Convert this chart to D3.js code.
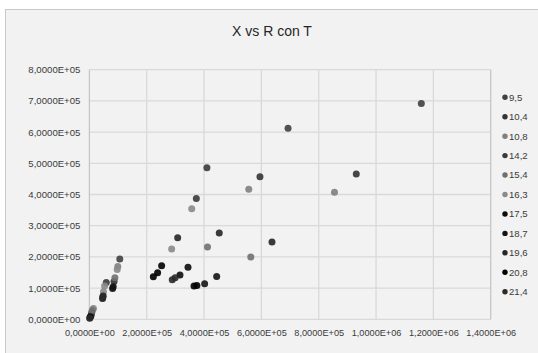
<!DOCTYPE html>
<html><head><meta charset="utf-8">
<script src="https://cdn.jsdelivr.net/npm/d3@7"></script>
<style>body{margin:0;background:#fff}svg{display:block}</style>
</head><body>
<script>
const seriesNames = ["9,5","10,4","10,8","14,2","15,4","16,3","17,5","18,7","19,6","20,8","21,4"];
const seriesColors = ["#404040","#333333","#7f7f7f","#3a3a3a","#707070","#8a8a8a","#0d0d0d","#141414","#262626","#000000","#2a2a2a"];
const xs = [
  [1158000, 693000, 106000, 2000],
  [931000, 595000, 86000, 6000],
  [855000, 556000, 99000, 14000],
  [410000, 373000, 59000, 8000],
  [563000, 412000, 89000, 10000],
  [357000, 287000, 97000, 53000, 49000],
  [344000, 316000, 81000, 3000],
  [444000, 402000, 83000, 46000],
  [453000, 637000, 308000, 48000],
  [252000, 238000, 223000, 375000, 365000],
  [299000, 289000, 47000, 1000]
];
const ys = [
  [692000, 612000, 193000, 5000],
  [466000, 457000, 121000, 12000],
  [407000, 417000, 169000, 35000],
  [486000, 387000, 118000, 21000],
  [200000, 232000, 133000, 28000],
  [354000, 225000, 160000, 107000, 88000],
  [167000, 142000, 99000, 8000],
  [137000, 114000, 104000, 67000],
  [277000, 248000, 261000, 75000],
  [172000, 149000, 136000, 108000, 107000],
  [133000, 127000, 72000, 3000]
];
const xTicks = [0,200000,400000,600000,800000,1000000,1200000,1400000];
const yTicks = [0,100000,200000,300000,400000,500000,600000,700000,800000];
const title = "X vs R con T";

const W = 538, H = 353;
const svg = d3.select("body").append("svg").attr("width", W).attr("height", H);
svg.append("rect").attr("x",5.5).attr("y",9.5).attr("width",W).attr("height",H)
  .attr("fill","#f2f2f2").attr("stroke","#c8c8c8");

const x = d3.scaleLinear().domain([0,1400000]).range([89.4,490.7]);
const y = d3.scaleLinear().domain([0,800000]).range([319.3,69.7]);
const fmt = v => { if (v===0) return "0,0000E+00"; const e=Math.floor(Math.log10(v)); const m=v/Math.pow(10,e); return m.toFixed(4).replace(".",",")+"E+"+String(e).padStart(2,"0"); };

const g = svg.append("g");
g.selectAll("line.h").data(yTicks).join("line").attr("class","h")
  .attr("x1",x(0)).attr("x2",x(1400000)).attr("y1",d=>y(d)).attr("y2",d=>y(d))
  .attr("stroke","#d9d9d9").attr("stroke-width",1.3);
g.selectAll("line.v").data(xTicks).join("line").attr("class","v")
  .attr("y1",y(0)).attr("y2",y(800000)).attr("x1",d=>x(d)).attr("x2",d=>x(d))
  .attr("stroke",(d,i)=> (i===0||i===xTicks.length-1)?"#c6c6c6":"#d9d9d9").attr("stroke-width",1.3);

const font = "'Liberation Sans', Arial, sans-serif";
const yAxis = d3.axisLeft(y).tickValues(yTicks).tickFormat(fmt).tickSize(0).tickPadding(9);
const ya = svg.append("g").attr("transform",`translate(${x(0)},0)`).call(yAxis);
ya.select(".domain").remove();
ya.selectAll("text").attr("font-family",font).attr("font-size","9.6px").attr("fill","#3a3a3a");

const xAxis = d3.axisBottom(x).tickValues(xTicks).tickFormat(fmt).tickSize(0).tickPadding(10);
const xa = svg.append("g").attr("transform",`translate(0,${y(0)})`).call(xAxis);
xa.select(".domain").remove();
xa.selectAll("text").attr("font-family",font).attr("font-size","9.2px").attr("fill","#3a3a3a");

seriesNames.forEach((n,i)=>{
  const pts = xs[i].map((v,j)=>[v, ys[i][j]]);
  svg.append("g").selectAll("circle").data(pts).join("circle")
    .attr("cx",d=>x(d[0])).attr("cy",d=>y(d[1])).attr("r",3.5)
    .attr("fill",seriesColors[i]).attr("opacity",0.9);
});

svg.append("text").attr("x",272).attr("y",36).attr("text-anchor","middle")
  .attr("font-family",font).attr("font-size","14px").attr("fill","#262626").text(title);

const lg = svg.append("g");
seriesNames.forEach((n,i)=>{
  const yy = 97.3 + i*19.44;
  lg.append("circle").attr("cx",505).attr("cy",yy).attr("r",2.7).attr("fill",seriesColors[i]);
  lg.append("text").attr("x",509).attr("y",yy).attr("dy","0.35em")
    .attr("font-family",font).attr("font-size","9.6px").attr("fill","#3a3a3a").text(n);
});
</script>
</body></html>
